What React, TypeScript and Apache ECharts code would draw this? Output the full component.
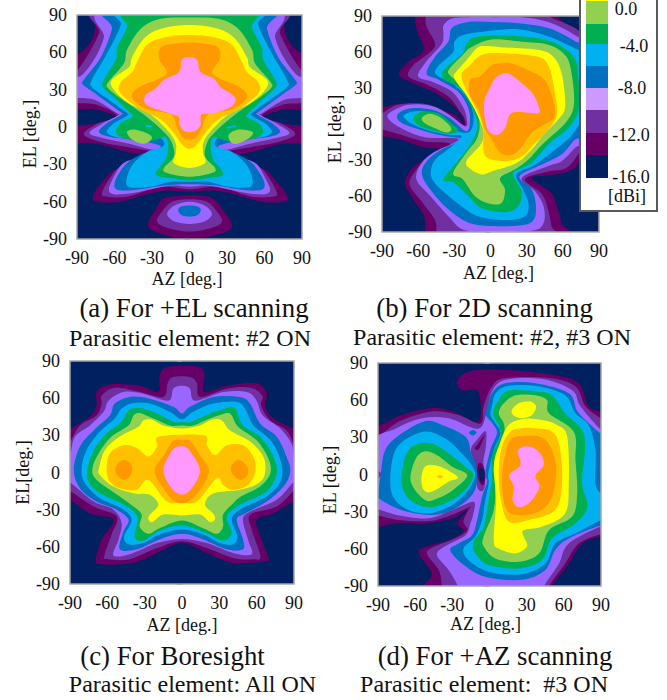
import React, { useEffect, useRef } from "react";
import * as echarts from "echarts";

const levelColors = ["#002060", "#660066", "#7030A0", "#9966FF", "#0070C0", "#00B0F0", "#00B050", "#92D050", "#FFFF00", "#FFC000", "#FF9900", "#FF99FF"];
const ticks = [-90, -60, -30, 0, 30, 60, 90];
const legendColors = ["#FFFF00", "#92D050", "#00B050", "#00B0F0", "#0070C0", "#CC99FF", "#7030A0", "#660066", "#002060"];
const legendEdges = [0, 1, 24, 44, 66, 88, 110, 133, 155, 178];
const legendLabels = ["0.0", "-4.0", "-8.0", "-12.0", "-16.0", "[dBi]"];

// Each entry: [contour level, flat list of AZ, EL pairs in degrees]
const panelA: [number, number[]][] = [
  [1, [-75,95,-75,90,-77,72,-88,59,-95,55,-95,18,-75,14,-59,8,-75,3,-95,-1,-95,-12,-71,-14,-50,-20,-25,-24,-19,-24,-26,-29,-44,-32,-59,-34,-69,-43,-77,-55,-74,-60,-55,-60,-34,-54,-18,-51,0,-52,19,-51,36,-54,57,-60,76,-60,78,-55,69,-43,60,-34,44,-31,26,-28,19,-24,26,-24,50,-20,71,-14,95,-12,95,-1,75,3,59,8,75,14,95,18,95,59,88,60,78,72,75,90,75,95]],
  [1, [0,-55,-20,-57,-27,-66,-33,-77,-30,-83,-15,-88,0,-89,15,-88,30,-84,34,-79,28,-68,18,-57]],
  [2, [-70,95,-72.5,75,-88.5,47,-95,47,-95,22,-75,18,-58,9,-75,2,-84.5,-6,-71,-12,-50,-16,-26,-20,-20,-21,-26,-26,-39,-28,-55,-32,-63,-40,-70,-53,-66,-56,-50,-56,-31,-50,-18,-48,0,-50,18,-48,31,-50,50,-56,66,-56,70,-53,63,-40,55,-32,39,-28,26,-26,20,-21,26,-20,50,-16,71,-12,84.5,-6,75,2,58,9,75,18,95,22,95,47,88.5,47,72.5,75,70,95]],
  [2, [0,-58,-14,-60,-22,-68,-26,-76,-18,-81,0,-84,18,-81,26,-76,22,-68,14,-60]],
  [3, [-66,95,-68.5,72,-76.5,54,-87,41,-95,41,-95,25,-76.5,22,-58,11,-56,10,-71,2,-80,-5,-68.5,-9,-50,-13,-31,-18,-22,-19,-31,-24,-45,-26,-54,-30,-60.5,-40,-64.5,-50,-60.5,-54,-45,-53,-26,-49,-12.5,-47,0,-48,12.5,-47,26,-49,45,-53,60.5,-54,64.5,-50,60,-40,54,-30,45,-26,31,-24,22,-19,31,-18,50,-13,68.5,-9,80,-5,71,2,56,10,58,11,76.5,22,95,25,95,41,87,41,76.5,54,68.5,72,66,95]],
  [3, [0,-60,-12,-63,-18,-70,-12,-76,0,-78,12,-76,18,-70,12,-63]],
  [4, [-62,95,-62,79,-71,56,-84.5,38,-85,34,-74,26,-55,12,-54,10,-66,3,-72.5,-4,-63,-8,-45,-10,-26,-14,-24,-17,-39,-22,-50,-29,-58,-40,-60,-48,-55,-51,-39,-50,-20.5,-47,0,-46,20.5,-47,39,-50,55,-51,60,-48,58,-40,50,-29,39,-22,24,-17,26,-14,45,-10,63,-8,72.5,-4,66,3,54,10,55,12,74,26,85,34,84.5,38,71,56,62,79,62,95]],
  [4, [0,-63,-7,-64,-9,-67,-6,-71,0,-72,6,-71,9,-67,7,-64]],
  [5, [-55,95,-55,82,-66,59,-78,38,-78,32,-66,23,-51,12,-50,9,-60.5,3,-66,-4,-59,-8,-45,-9,-26,-8,-20.5,-12,-22,-16,-34,-20,-44.5,-29,-50,-40,-48.5,-48,-31,-48,-15,-44,0,-44,15,-44,31,-48,48.5,-48,50,-40,44.5,-29,34,-20,22,-16,20.5,-12,26,-8,45,-9,59,-8,66,-4,60.5,3,50,9,51,12,66,23,78,32,78,38,66,59,55,82,55,95]],
  [6, [-48.5,95,-50,80,-58,64,-59,54,-68.5,38,-69,32,-60.5,24,-47,11,-46,8,-55,3,-59,-4,-52.5,-9,-36.5,-12,-26,-10,-19,-8,-17,-16,-19,-26,-27,-38,-15,-41,0,-43,15,-41,27,-38,19,-26,17,-16,19,-8,26,-10,36.5,-12,52.5,-9,59,-4,55,3,46,8,47,11,60.5,24,69,32,68.5,38,59,54,58,64,50,80,48.5,95]],
  [5, [-35,1,-31,1.5,-30,0,-34,-0.3]],
  [5, [30,0,36,1.5,37,0,31,-1]],
  [7, [0,88,-23,87,-39,79,-50,62,-52.5,51,-65,36,-65,31,-55,23,-36.5,10,-20.5,-4,-14,-13,-12.5,-24,-20.5,-33,-18,-37,0,-40,18,-37,20.5,-33,12.5,-24,14,-13,20.5,-4,36.5,10,55,23,65,31,65,36,52.5,51,50,62,39,79,23,87]],
  [7, [-50,-4,-44.5,-2,-34,-5,-30,-9,-36.5,-13.5,-46,-10]],
  [7, [31.5,-6,39.5,-2,50.5,-4,47.5,-9,38,-13.5,33,-12]],
  [8, [0,82,-23,79,-36.5,71,-46,56,-48.5,48,-62,38,-60.5,30,-48.5,19,-31,10,-16.5,-4,-11,-13,-11,-21,-12.5,-29,0,-33,12.5,-29,11,-21,11,-13,16.5,-4,31,10,48.5,19,60.5,30,62,38,48.5,48,46,56,36.5,71,23,79]],
  [9, [0,74,-20.5,72,-34,66,-42,52,-46,44,-55,36,-55,27,-39,14,-23,6,-12.5,-5,-6,-14,0,-17.5,6,-14,12.5,-5,23,6,39,14,55,27,55,36,46,44,42,52,34,66,20.5,72]],
  [10, [0,68,-18,66,-24,62,-24,54,-18,44,-26,38,-36.5,34,-45,28,-45,22,-34,14,-15,10,-10,-1,-4.5,-9,0,-10,4.5,-9,10,-1,15,10,34,14,45,22,45,28,36.5,34,26,38,18,44,24,54,24,62,18,66]],
  [11, [0,56,-6,54,-8.5,44,-20.5,38,-27,31,-35,26,-36,20,-31,16,-15,10.5,-8.5,8,-8,2,-4.5,-3,0,-4,5,-3,9,2,9.5,10,19.5,11,33,16,37,22,33,27,25,32,19.5,39,9,44,6,54]],
];

const panelB: [number, number[]][] = [
  [1, [-63,95,-63,90,-61,78,-56,66,-57,59,-68,52,-76,41,-64,34,-46,26,-30,14.5,-23,5,-22,0,-30,8,-46,13,-71,17,-90,14,-95,14,-95,-7,-74,-13,-57,-19,-41,-21,-39,-24,-50,-28,-63,-35,-71,-49,-64,-63,-55,-77,-54.5,-90,-54,-95,59,-95,59,-82.5,55,-68.5,50.5,-57.5,34,-45,48,-43,64.5,-39.5,73,-32.5,81,-8,81,62,74,73,55,90,55,95]],
  [2, [-54,95,-54,90,-53,81,-46,67,-50,60,-64,49,-68,39.5,-52,32.5,-35,23,-25,10,-21,3,-23,-1.5,-41,12,-57,17,-77,16,-90,9,-95,8,-95,-2,-74,-9,-55,-14.5,-34,-16,-38,-21.5,-52,-27,-61.5,-38,-67,-50.5,-56,-66,-46,-80,-45,-90,-45,-95,49,-95,50.5,-85,47,-68.5,42,-57.5,28.5,-46,48,-39.5,62,-37,71.5,-27,81,-8,81,62,73,78,48,90,48,95]],
  [3, [-18.5,89,-32,88,-39,82,-39,74,-41,66,-54.5,50.5,-60,39.5,-48,35,-32,27,-23,14.5,-20,6,-20.5,-2,-34,7.6,-49,15,-68.5,16,-84,9,-84,3.5,-74,-3.5,-54.5,-11,-28,-12,-31,-16,-46,-23,-57,-32.5,-61.5,-46,-50,-60,-34,-78,-23,-88,-5,-90,34,-89,44,-82.5,44,-68.5,37,-56,26,-45,48,-35,59,-31,70,-20,81,-8,81,62,70,74,48,85,26,89,3.6,89]],
  [4, [-18.5,85,-32,80,-35,68.5,-46,56,-53,42,-43.5,37,-27,27,-19,14.5,-17,3.5,-20,-6,-34,5,-49,12,-67,13,-77,8,-74,1,-54.5,-6,-38,-10,-24,-13,-41,-21.5,-52,-30,-57,-41,-50,-54.5,-35,-71,-18.5,-82,1,-85,28.5,-84,37,-77,37,-63,33,-53,24,-43.5,42,-34,59,-25.5,70,-13,81,-5,81,60,70,69,48,80,23,84,1,85]],
  [5, [-23,74,-30,68.5,-31,60,-43.5,48,-45,41,-30,32.5,-18.5,20,-14,6,-17,-6,-27,-6,-38,2,-52,10,-66,10,-72,6,-63,-1,-49,-6,-35,-9,-24,-10,-32.5,-19,-46,-30,-49.5,-42,-43.5,-52,-24,-68.5,-10,-77,12,-80,28.5,-77,31.5,-66,27,-54.5,21.6,-42,37,-34,53.5,-21.5,70,-6,81,20,81,55,70,63,48,73,23,79,-5,77]],
  [6, [-20,67,-23,59,-38,46,-39,38,-25.5,30,-17,17,-11,0.7,-14.5,-13,-24,-27,-39,-46,-30,-49,-18.5,-60,-7.5,-70,12,-73.5,23,-68.5,26,-56,19,-41,34,-32.5,48,-17,64.5,-3.5,73,12,73,37,69,56,51,68.5,26,73,-10,73]],
  [6, [-64,5,-57,10,-43.5,9,-32.5,0.7,-27,-6,-35,-8,-49,-5,-60,-1]],
  [7, [-16,64,-23,57.5,-34,46,-34,41,-23,31,-14,14.5,-9,0.7,-11.6,-13,-20,-24,-31,-41,-23,-46,-13,-60,-2,-66,9,-66,12,-54.5,8,-45,20,-38,31,-30,44,-16,62,0.7,69,14.5,68,37,63,56,48,66,26,68.5,1,70.5]],
  [7, [-57,5,-50.5,8.5,-41,5,-32.5,-3.5,-36.5,-7,-46,-3.5,-54.5,0.7]],
  [8, [-11.6,63,-20,53,-28,44,-30,38,-20,24,-11.6,9,-6,-5,-7.5,-16,-20,-31,-16,-38,-7.5,-42,1,-39.5,21.6,-32.5,34,-21.5,44,-9,56,3.5,62,14.5,59,42,52,56,40,61.6,9,64,-5,65]],
  [9, [-7.5,57.5,-17,49,-24,41,-20,28,-11.6,12,-6,-3.5,-6,-19,-3,-28,12,-31,26,-27,37,-16,48,-5,55,7.6,53.5,25.6,48,49,37,56.6,9,59]],
  [10, [1,49,-9,39.5,-17,36.7,-17,24,-10,12,-5,-3.5,1,-13,8,-24,17.5,-26,26,-19,34,-7.6,44,-0.7,53,6,52,20,45,36.7,34,43.6,17.5,50.5,9,50.5]],
  [11, [10.5,42,3.6,38,-0.5,30,-5,20,-5,6,-1.4,-6,6,-9,12,-3.5,16,7.6,23,10,39.6,9,40,14.5,35,25.6,26,34,16,41.6]],
];

const panelC: [number, number[]][] = [
  [1, [-95,35,-90,35.5,-74,45,-68.6,54,-68.6,65,-58,71,-34,70,-19,65,-18,78,-12,85,12,85.6,18,80,18,65,36,70,60,72,68,64,67,53,73.5,43.6,90,35.5,95,35,95,-22,90,-23,73.5,-33,60,-38,63,-51.6,69,-67.6,67,-71.7,41,-73,20,-65,0,-57,-20,-65,-39,-73,-66,-74,-69,-69,-64.6,-54,-55,-38,-74,-33,-90,-22,-95,-22]],
  [2, [-95,24,-90,25,-82,38,-68.6,46,-64.6,55.6,-64.6,62,-54,68.5,-34,65,-15,61,-11.5,72,-7,77,6.4,77,12,72,14.5,61,36,67.6,55,68.5,64.6,62,63.6,54,71,42,84,34,90,23.5,95,23,95,-14,90,-15,76,-27.5,55,-34,56,-46,63,-67.6,57.6,-70,41,-69,20,-61,0,-55.5,-20,-61,-42,-70,-59,-70,-62.5,-67.6,-56.6,-50,-52.5,-35.5,-71,-27.5,-90,-15,-95,-14]],
  [3, [-95,14,-90,15,-86,29,-74,38,-63,49,-59,58,-47,65,-31,63.6,-11,58,-7,67.7,0,70,6.4,67.7,10.5,58,33,65,52,65,60,58,65,46,79,35.5,88,23.5,90,14,95,14,95,-6,90,-7.4,76,-22,55,-31.5,49,-38,53,-54,56,-66,41,-65,20,-57,0,-53.7,-20,-57,-40.5,-65.5,-55,-67,-51,-54,-48.5,-41,-55,-30,-71,-23.5,-89,-8.7,-95,-6]],
  [4, [-87,2,-82,21,-71,34,-58,46,-54,55.6,-42,61,-26,59.6,-7,53,0,47.6,6.4,53,25,61,46.6,61,54.7,55.6,62.7,39.5,76,29,84,12.7,87,0.7,81.5,-11.4,68,-23.5,50.7,-33,44,-38,49,-54,49,-62,36,-62,17,-54,0,-49.5,-18,-54,-36.5,-62,-50,-62,-47,-47.6,-43,-38,-52.5,-30,-68.6,-23.5,-82,-12.7]],
  [5, [-80.7,3,-76.7,18,-66,33,-54,43.6,-48.5,51.6,-39,56,-26,55.6,-10,49,0,43,9,49,25,55.6,44,57,50.7,51.6,57.4,38,72,25,80,7,79,-7.4,68,-19.4,46.6,-30,40,-38,44.5,-51.6,41,-58,30.6,-57,17,-50,0,-46,-18,-50,-31,-57,-43,-58,-46.6,-51.6,-40.5,-38,-48.5,-29,-66,-20.8,-78,-8.7]],
  [6, [-76,3,-71,18,-60.6,31.5,-48.5,41,-43,50,-34,52,-20,47.6,-7,41,0,40.5,8,41,22.5,47.6,36,52,42.6,51.6,49,38,62.7,29,73.5,12.7,76,-0.7,68,-15.4,46.6,-26,36,-35.5,40,-49,33,-55,20,-49,0,-42.8,-18,-47,-31,-55,-38,-51.6,-36,-35.5,-47,-26,-66,-16.8,-75,-7.4]],
  [7, [-72,3,-67,15.4,-56.6,29,-43,38,-39,46,-34,48,-23,43.6,-9.6,38,0,38,9,38,22.5,43.6,36,48,40,46,45,37,60,26,69.4,11.4,71,-0.7,62.7,-11.4,48,-19,41,-25,33,-34,33,-43.6,28,-49.5,17,-45,0,-38.7,-18,-45,-27,-49.5,-34,-43.6,-32.4,-34,-39,-27.5,-50,-19.4,-68.6,-6]],
  [8, [-66.7,3,-62,18,-50,29,-35,37,-31,42,-24.4,42.7,-15,38,0,35.5,14.5,38,24,42.7,32,42,38.6,34,54.7,25,65.4,12.7,66.7,-0.7,61.4,-8.7,46.6,-14,25,-17,18.5,-26,25,-33,26.5,-37.7,22.5,-40,14.5,-34,0,-34.7,-15,-34,-23.6,-40,-27,-38,-25.7,-34,-19,-26,-26,-18,-39,-16.8,-55,-11.4,-66,-2]],
  [9, [-60.6,2,-58,15.4,-47,22,-36.5,20,-27,13,-20,20.8,-18,29,17,30,20,22,26.5,14,36,22,49,22,57.4,12.7,59,0.7,53,-10,41,-14,33,-10,28,-4.7,12,-23.5,0,-24,-12,-23.5,-27,-6,-36.5,-14,-50,-12.7,-58,-7.4]],
  [10, [0,26,-7,25.6,-13.7,15.4,-22,1.5,-15,-12.7,-5.6,-23.5,4,-24,14.5,-14,21.7,1.5,14.5,14,6.4,25.6]],
  [10, [-46.6,10,-52.5,6,-53,-0.7,-47,-6,-41,-2,-40.5,6]],
  [10, [46,10,40,6,40,-0.7,46.6,-6,52.5,-2,52.5,4.7]],
  [11, [-4,20.8,-9.6,15.4,-15,1.5,-8.3,-12.7,0,-18,7.8,-12.7,14.5,1.5,7.8,15.4,2.4,20.8]],
  [0, [-6,-58.5,6,-58.5,6,-62,-6,-62]],
];

const panelD: [number, number[]][] = [
  [1, [-95,39,-90,38.7,-71,48,-46.5,53.5,-30,51,-9,42.7,-9,67,-22,67.8,-26,75,-17,83,10,84.5,50.5,80.5,72,73.7,80,55,90,51,95,51,95,-50,90,-50,75,-55.6,64,-72,50.5,-90,50.5,-95,-54,-95,-54,-90,-46.5,-80,-57,-63.7,-50.5,-58,-33,-53,-21,-46,-26,-39.5,-18,-28.7,-30,-35.4,-52,-39.5,-76,-39.5,-90,-42.7,-95,-43]],
  [2, [-95,30,-90,30,-73,42.7,-46.5,50.8,-25,48,-7.4,41,-4.7,55,2,71,12.8,77.8,48,77.8,69.4,71,77.5,55,90,45.4,95,45,95,-48,90,-48,72,-55.7,61,-72,48,-90,48,-95,-38.4,-95,-38.4,-90,-41,-77,-50.5,-64,-44,-58,-28,-51.6,-18,-45,-21,-38,-17,-28.7,-15.5,-26,-27.6,-31.4,-46.5,-37.3,-71,-37,-90,-33,-95,-33]],
  [3, [-95,24,-76,37,-54.6,45.4,-33,45.4,-9,37,-2,52,2,67,12.8,76.4,42.5,77,66.7,68,73.4,55,90,36,95,36,95,-45,90,-42,64,-55.7,56,-72,44,-90,44,-95,-25.5,-95,-25.5,-90,-33,-77,-42.5,-65,-36,-58,-19.5,-49,-15.5,-39.5,-13,-31.4,-13,-22,-30,-28.7,-49,-35.4,-73,-33,-90,-28,-95,-28]],
  [2, [-95,5,-87,0,-95,-5]],
  [2, [-15,20,-10,28,-3,35,-3,22,-5,10,-3.4,0,-4.5,-12,-9,-12,-12,0,-12,8]],
  [1, [-12,21,-9.3,24.7,-4,32,-6,26,-9,20]],
  [1, [-8.8,9,-5.5,7.7,-3.4,-0.4,-4.7,-8.5,-8.2,-5.8,-10,2.3]],
  [0, [-8,5,-4.7,3.6,-4.4,-3,-7,-5.8,-8.2,-0.4]],
  [4, [-16.5,34,-13.5,36,-10.5,34,-13.5,31.5]],
  [4, [-89.6,-14,-88,-1.7,-84,20,-71,33,-52,43,-38.4,40,-19.5,30.6,-15,18,-11.5,9,-10,0,-13,-15,-27.6,-27.4,-46.5,-32.7,-71,-28.7,-89.6,-19]],
  [4, [-3,49.5,2,65.6,12.8,73.7,37,73.7,64,65.6,71,50.8,83,38.7,90,33,95,33,95,-42,90,-41,64,-51.6,53,-61,45,-77,26,-85,-3.4,-82.6,-22,-72,-31.7,-61,-25,-55.7,-14,-49,-10,-36.8,-6,-18,-2,-5.8,-3.4,1,0.7,19.8,6,33,3.4,40,-3.4,48]],
  [5, [-79,9,-72,25,-52,34.7,-35.7,29,-25,19.8,-15.5,9,-11.5,-0.4,-17,-12.5,-30,-24.7,-49,-31.4,-68,-27.4,-79,-15]],
  [5, [2,55,5,65.6,15.5,71.6,40,71,61,64,69.4,49.5,80,40,85.5,19.8,85.5,-7,90,-15,95,-15,95,-37,90,-37,69.4,-47.6,53,-55.7,45,-72,26,-80.5,-0.7,-78.6,-17,-69,-21,-59.7,-11.5,-50,-6,-36.8,-3.4,-20.6,-0.7,-7,-1,1,3.4,19.8,8.8,33,4.7,41.4,0.7,48]],
  [6, [-71,-7,-68,14.4,-60,23.8,-46.5,25,-33,17,-21,7.7,-13,-0.4,-19.5,-12.5,-33,-22,-49,-26.5,-64,-20.6]],
  [6, [2.8,49.5,7.4,60,15.5,67.8,37,67,50.5,64,61,49.5,74.8,36,77,19.8,74.8,-7,79,-26,69.4,-39.5,50.5,-51.6,42.5,-69,23.6,-75.9,-0.7,-73,-11.5,-63.7,-12.8,-54,-4.7,-42,-0.7,-20.6,2,-4.4,2,14.4,8.8,30.6,7.4,40]],
  [7, [-63.5,-5.8,-60,11.7,-53,18.5,-42.5,15.8,-30,6.3,-18,-0.4,-27.6,-11,-41,-19,-52,-20.6]],
  [7, [7.4,49.5,11.5,57.5,21,64,37,64,46.5,60,48,49.5,68,34.6,69.4,11.7,70.8,-15,66.7,-34,48,-45,40,-63.7,23.6,-70.5,4.7,-67.8,-4.7,-58,-4.7,-50,3.4,-28.7,4.7,-7,4.7,14.4,11.5,32,11.5,41.4]],
  [8, [-55,-4.4,-53,5,-48,7.7,-38.4,5.8,-25.5,-2.3,-33,-5.8,-46.5,-13.9,-53,-12.5]],
  [8, [29,45,15.5,40,7.4,22.5,3.4,6.3,5.3,-20.6,3.4,-53,7.4,-59.7,21,-63.7,30.3,-58,27.6,-50,27.6,-45,42.5,-42,61,-31.4,64,-7,62.7,30.6,54.6,40,42.5,44]],
  [8, [18,52,23.6,57.5,33,59,37.6,54.8,34.4,48,26.3,45.4,19.5,47.6]],
  [9, [-42.5,-1.8,-40,-0.4,-37.5,-1.8,-40,-3.2]],
  [9, [26.3,37.3,16.8,34.6,10,22.5,7.4,1,9.3,-20.6,15.5,-38,31.7,-36.8,53,-28.7,58.6,-7,56.6,22.5,50.5,34.6,37,37.3]],
  [10, [29,31,18,29,12.8,17,10,-4.4,12.8,-26,21,-32.7,39.7,-30,50.5,-18,53.8,6.3,47.8,25,38.4,31]],
  [11, [27.6,22.5,22.8,18.5,25,7.7,16,-0.4,19.6,-9.8,18.7,-20.6,23.6,-26.5,33,-22,40.3,-9.8,37,-1.2,43.8,7.7,41,17,34.4,22]],
];

const panels = [
  { contours: panelA, rect: [77, 15, 225, 224], xName: "AZ [deg.]", yName: "EL [deg.]", xGap: 31, yGap: 38, xPad: [0, 5, 0, 0], yPad: [0, 14, 0, 0] },
  { contours: panelB, rect: [382, 16, 217, 216], xName: "AZ [deg.]", yName: "EL [deg.]", xGap: 32, yGap: 38, xPad: [0, 0, 0, 16], yPad: [0, 10, 0, 0] },
  { contours: panelC, rect: [70, 361, 224, 223], xName: "AZ [deg.]", yName: "EL[deg.]", xGap: 32, yGap: 38, xPad: [0, 0, 0, 0], yPad: [0, 0, 0, 0] },
  { contours: panelD, rect: [378, 363, 223, 223], xName: "AZ [deg.]", yName: "EL [deg.]", xGap: 27, yGap: 39, xPad: [0, 8, 0, 0], yPad: [0, 11, 0, 0] },
];

const captions: [string, number, number, number][] = [
  ["(a) For +EL scanning", 194, 308, 26.8],
  ["Parasitic element: #2 ON", 190, 338, 24],
  ["(b) For 2D scanning", 484.5, 308, 26.8],
  ["Parasitic element: #2, #3 ON", 492, 337, 24],
  ["(c) For Boresight", 172.5, 656, 26.8],
  ["Parasitic element: All ON", 192.5, 684, 24],
  ["(d) For +AZ scanning", 495, 656, 26.8],
  ["Parasitic element:  #3 ON", 484, 684, 24],
];

const legendLabelPos: [number, number][] = [[626, 9], [634, 46], [632, 88], [631, 135], [631, 177], [627, 196]];

const FONT = "'Liberation Serif', 'Times New Roman', serif";

function closedSpline(pts: number[][]): string {
  const n = pts.length;
  let d = `M${pts[0][0]} ${pts[0][1]}`;
  for (let i = 0; i < n; i++) {
    const p0 = pts[(i - 1 + n) % n];
    const p1 = pts[i];
    const p2 = pts[(i + 1) % n];
    const p3 = pts[(i + 2) % n];
    const c1x = p1[0] + (p2[0] - p0[0]) / 6;
    const c1y = p1[1] + (p2[1] - p0[1]) / 6;
    const c2x = p2[0] - (p3[0] - p1[0]) / 6;
    const c2y = p2[1] - (p3[1] - p1[1]) / 6;
    d += `C${c1x} ${c1y} ${c2x} ${c2y} ${p2[0]} ${p2[1]}`;
  }
  return d + "Z";
}

function buildOption() {
  const grid: any[] = [];
  const xAxis: any[] = [];
  const yAxis: any[] = [];
  const series: any[] = [];
  panels.forEach((p, i) => {
    const [left, top, width, height] = p.rect;
    grid.push({ left, top, width, height, show: true, backgroundColor: levelColors[0], borderWidth: 0 });
    const nameStyle = { fontFamily: FONT, fontSize: 18, color: "#111" };
    const labelStyle = { fontFamily: FONT, fontSize: 18, color: "#111", showMinLabel: true, showMaxLabel: true };
    xAxis.push({
      gridIndex: i, type: "value", min: ticks[0], max: ticks[ticks.length - 1], interval: 30, name: p.xName, nameLocation: "middle", nameGap: p.xGap,
      nameTextStyle: { ...nameStyle, padding: p.xPad }, axisLine: { show: false }, axisTick: { show: false }, splitLine: { show: false },
      axisLabel: { ...labelStyle, margin: 10 },
    });
    yAxis.push({
      gridIndex: i, type: "value", min: ticks[0], max: ticks[ticks.length - 1], interval: 30, name: p.yName, nameLocation: "middle", nameGap: p.yGap,
      nameRotate: 90, nameTextStyle: { ...nameStyle, padding: p.yPad }, axisLine: { show: false }, splitLine: { show: false },
      axisTick: { show: true, length: 5, lineStyle: { color: "#A6A6A6" }, interval: (idx: number) => idx === 0 },
      axisLabel: { ...labelStyle, margin: 10 },
    });
    series.push({
      type: "custom", xAxisIndex: i, yAxisIndex: i, silent: true, clip: true, z: 2,
      data: p.contours.map((c, k) => [k, c[0]]),
      renderItem: (params: any, api: any) => {
        const entry = p.contours[params.dataIndex];
        const flat = entry[1];
        const pts: number[][] = [];
        for (let k = 0; k < flat.length; k += 2) pts.push(api.coord([flat[k], flat[k + 1]]));
        return { type: "path", shape: { pathData: closedSpline(pts) }, style: { fill: levelColors[entry[0]] } };
      },
    });
    series.push({
      type: "custom", xAxisIndex: i, yAxisIndex: i, silent: true, clip: false, z: 5,
      data: [[0, 0]],
      renderItem: (_: any, api: any) => {
        const a = api.coord([-90, 90]);
        const b = api.coord([90, -90]);
        return { type: "rect", shape: { x: a[0], y: a[1], width: b[0] - a[0], height: b[1] - a[1] }, style: { fill: "none", stroke: "#A6A6A6", lineWidth: 1.5 } };
      },
    });
  });

  const graphic: any[] = captions.map(([text, x, y, size]) => ({
    type: "text", x, y, z: 100, style: { text, fontFamily: FONT, fontSize: size, fill: "#111", textAlign: "center", textVerticalAlign: "middle" },
  }));
  graphic.push({ type: "rect", z: 100, shape: { x: 580, y: -5, width: 77, height: 216 }, style: { fill: "#fff", stroke: "#595959", lineWidth: 2 } });
  legendColors.forEach((c, i) => {
    graphic.push({ type: "rect", z: 101, shape: { x: 586, y: legendEdges[i], width: 22, height: legendEdges[i + 1] - legendEdges[i] }, style: { fill: c } });
  });
  legendLabels.forEach((text, i) => {
    graphic.push({ type: "text", z: 101, x: legendLabelPos[i][0], y: legendLabelPos[i][1], style: { text, fontFamily: FONT, fontSize: 18, fill: "#111", textAlign: "center", textVerticalAlign: "middle" } });
  });

  return { animation: false, backgroundColor: "#fff", tooltip: { show: false }, grid, xAxis, yAxis, series, graphic };
}

export default function App() {
  const ref = useRef<HTMLDivElement>(null);
  useEffect(() => {
    const chart = echarts.init(ref.current!, undefined, { renderer: "svg" });
    chart.setOption(buildOption());
    return () => chart.dispose();
  }, []);
  return <div ref={ref} style={{ position: "absolute", left: 0, top: 0, width: 667, height: 700 }} />;
}
